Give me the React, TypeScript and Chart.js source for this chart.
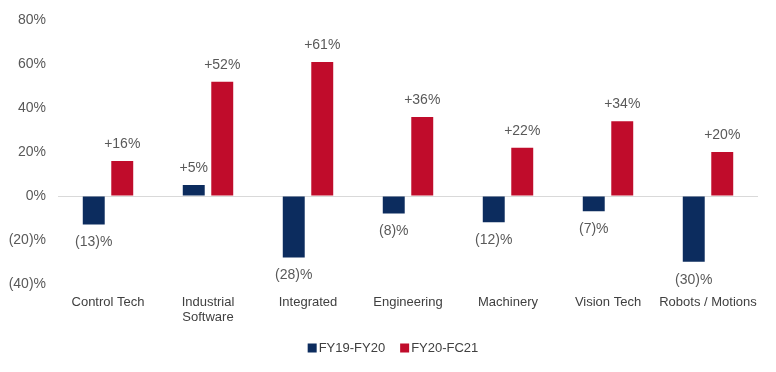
import React, { useEffect, useRef } from "react";
import { Chart, registerables } from "chart.js";

Chart.register(...registerables);

const categories: (string | string[])[] = [
  "Control Tech",
  ["Industrial", "Software"],
  "Integrated",
  "Engineering",
  "Machinery",
  "Vision Tech",
  "Robots / Motions",
];
const fy19fy20 = [-13, 5, -28, -8, -12, -7, -30];
const fy20fc21 = [16, 52, 61, 36, 22, 34, 20];
const seriesNames = ["FY19-FY20", "FY20-FC21"];
const colors = ["#0C2C5E", "#C00C2B"];

const FONT = "'Liberation Sans', Arial, sans-serif";
const fmt = (v: number) => (v < 0 ? `(${Math.abs(v)})%` : `${v}%`);
const fmtLabel = (v: number) => (v < 0 ? `(${Math.abs(v)})%` : `+${v}%`);

const labelPlugin = {
  id: "barLabels",
  afterDatasetsDraw(chart: any) {
    const ctx = chart.ctx;
    ctx.save();
    ctx.font = `14px ${FONT}`;
    ctx.fillStyle = "#595959";
    ctx.textAlign = "center";
    ctx.textBaseline = "middle";
    chart.data.datasets.forEach((ds: any, i: number) => {
      const meta = chart.getDatasetMeta(i);
      meta.data.forEach((el: any, j: number) => {
        const v = ds.data[j];
        const y = v >= 0 ? el.y - 17 : el.y + 18;
        ctx.fillText(fmtLabel(v), el.x, y);
      });
    });
    ctx.restore();
  },
};

const legendPlugin = {
  id: "customLegend",
  afterDraw(chart: any) {
    const ctx = chart.ctx;
    ctx.save();
    ctx.font = `13px ${FONT}`;
    ctx.textBaseline = "middle";
    ctx.textAlign = "left";
    const box = 9;
    const gap = 2;
    const spacing = 15;
    const items = chart.data.datasets.map((ds: any) => ({
      text: ds.label,
      color: ds.backgroundColor,
      w: box + gap + ctx.measureText(ds.label).width,
    }));
    const total = items.reduce((a: number, it: any) => a + it.w, 0) + spacing * (items.length - 1);
    let x = 393 - total / 2;
    const y = 348;
    items.forEach((it: any) => {
      ctx.fillStyle = it.color;
      ctx.fillRect(x, y - box / 2, box, box);
      ctx.fillStyle = "#404040";
      ctx.fillText(it.text, x + box + gap, y);
      x += it.w + spacing;
    });
    ctx.restore();
  },
};

export default function App() {
  const ref = useRef<HTMLCanvasElement>(null);
  useEffect(() => {
    document.body.style.margin = "0";
    const chart = new Chart(ref.current!, {
      type: "bar",
      data: {
        labels: categories,
        datasets: [
          { label: seriesNames[0], data: fy19fy20, backgroundColor: colors[0] },
          { label: seriesNames[1], data: fy20fc21, backgroundColor: colors[1] },
        ],
      },
      options: {
        animation: false,
        responsive: false,
        datasets: { bar: { categoryPercentage: 0.57, barPercentage: 0.77 } },
        layout: { padding: { top: 7, right: 18, left: 0, bottom: 44 } },
        scales: {
          x: {
            grid: { display: false },
            border: { display: false },
            ticks: {
              color: "#404040",
              font: { family: FONT, size: 13 },
              padding: 2.5,
              maxRotation: 0,
              autoSkip: false,
            },
          },
          y: {
            min: -40,
            max: 80,
            border: { display: false },
            afterFit: (s: any) => {
              s.width = 58;
            },
            grid: {
              color: (c: any) => (c.tick && c.tick.value === 0 ? "#D9D9D9" : "rgba(0,0,0,0)"),
              drawTicks: false,
            },
            ticks: {
              stepSize: 20,
              color: "#595959",
              padding: 12,
              font: { family: FONT, size: 14 },
              callback: (v: any) => fmt(Number(v)),
            },
          },
        },
        plugins: {
          legend: { display: false },
          tooltip: { enabled: false },
        },
      },
      plugins: [labelPlugin, legendPlugin],
    });
    return () => chart.destroy();
  }, []);
  return (
    <div style={{ width: 776, height: 372 }}>
      <canvas ref={ref} width={776} height={372} />
    </div>
  );
}
